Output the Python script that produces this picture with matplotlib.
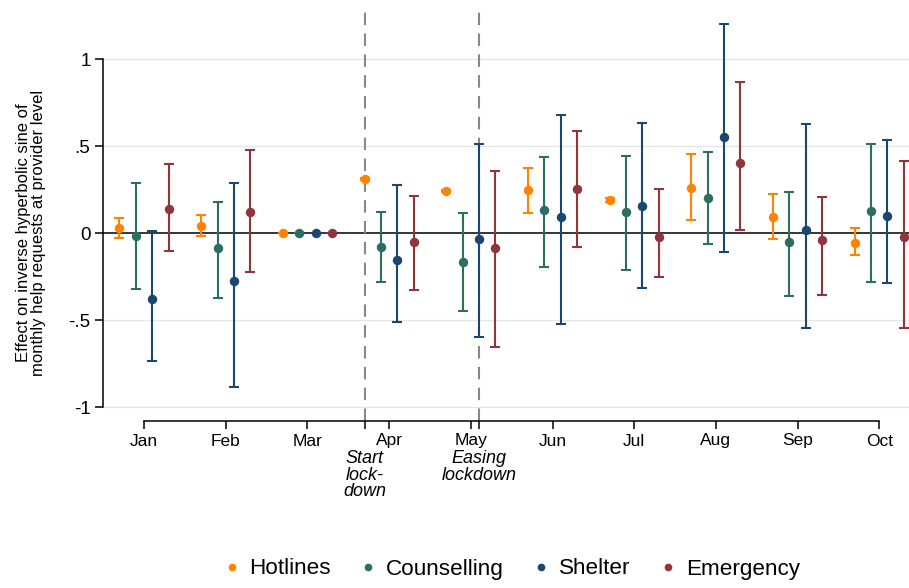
import matplotlib
matplotlib.use("Agg")
import matplotlib.pyplot as plt
import numpy as np

plt.rcParams['font.family'] = ['Liberation Sans', 'DejaVu Sans']

months = ["Jan", "Feb", "Mar", "Apr", "May", "Jun", "Jul", "Aug", "Sep", "Oct"]
series = ["Hotlines", "Counselling", "Shelter", "Emergency"]
colors = ["#FF8300", "#2C6E62", "#1A476F", "#90353B"]
offsets = [-0.3, -0.1, 0.1, 0.3]

hot_est = [0.030, 0.044, 0.0, 0.312, 0.243, 0.251, 0.190, 0.259, 0.094, -0.054]
hot_lo = [-0.029, -0.014, 0.0, 0.305, 0.236, 0.118, 0.178, 0.076, -0.034, -0.125]
hot_hi = [0.086, 0.105, 0.0, 0.319, 0.250, 0.373, 0.202, 0.454, 0.226, 0.029]

cou_est = [-0.017, -0.086, 0.0, -0.077, -0.167, 0.132, 0.121, 0.201, -0.050, 0.126]
cou_lo = [-0.320, -0.370, 0.0, -0.282, -0.447, -0.194, -0.209, -0.061, -0.358, -0.280]
cou_hi = [0.289, 0.178, 0.0, 0.122, 0.118, 0.438, 0.444, 0.466, 0.236, 0.513]

she_est = [-0.376, -0.274, 0.0, -0.153, -0.035, 0.095, 0.157, 0.555, 0.021, 0.099]
she_lo = [-0.732, -0.883, 0.0, -0.508, -0.598, -0.523, -0.316, -0.109, -0.542, -0.284]
she_hi = [0.015, 0.287, 0.0, 0.276, 0.515, 0.678, 0.632, 1.205, 0.628, 0.536]

eme_est = [0.141, 0.122, 0.0, -0.048, -0.083, 0.255, -0.021, 0.402, -0.037, -0.021]
eme_lo = [-0.102, -0.224, 0.0, -0.328, -0.652, -0.079, -0.249, 0.019, -0.353, -0.544]
eme_hi = [0.397, 0.480, 0.0, 0.213, 0.358, 0.588, 0.255, 0.871, 0.207, 0.416]

events_x = [3.7, 5.1]
events_lbl = ["Start\nlock-\ndown", "Easing\nlockdown"]

yticks = [-1, -0.5, 0, 0.5, 1]
ytick_lbls = ["-1", "-.5", "0", ".5", "1"]

data = [(hot_est, hot_lo, hot_hi), (cou_est, cou_lo, cou_hi),
        (she_est, she_lo, she_hi), (eme_est, eme_lo, eme_hi)]

fig = plt.figure(figsize=(9.09, 5.88), dpi=100)
ax = fig.add_axes([103/909, 1-421/588, 1-103/909, 421/588])

x = np.arange(1, len(months)+1)

for yv in [-1, -0.5, 0.5, 1]:
    ax.axhline(yv, color="#E6E6E6", lw=1.0, zorder=0)
ax.axhline(0, color="black", lw=1.1, zorder=1)

for ex in events_x:
    ax.plot([ex, ex], [-1.08, 1.30], color="#888888", lw=1.5,
            dashes=(6, 4), zorder=1, clip_on=False)

handles = []
for (est, lo, hi), c, off, name in zip(data, colors, offsets, series):
    est = np.array(est); lo = np.array(lo); hi = np.array(hi)
    xs = x + off
    yerr = np.vstack([est - lo, hi - est])
    ax.errorbar(xs, est, yerr=yerr, fmt='none', ecolor=c, elinewidth=1.5,
                capsize=3.8, capthick=1.5, zorder=2)
    ax.plot(xs, est, 'o', color=c, ms=6.8, zorder=3, mec='none')
    h, = ax.plot([], [], 'o', color=c, ms=5.5, mec='none', label=name)
    handles.append(h)

ax.set_xlim((103-144)/81.7+1, (909-144)/81.7+1)
ax.set_ylim((233.3-421)/174, (233.3-0)/174)

for s in ["top", "right"]:
    ax.spines[s].set_visible(False)
ax.spines["left"].set_bounds(-1, 1)
ax.spines["bottom"].set_bounds(1, 10)
ax.spines["left"].set_linewidth(1.1)
ax.spines["bottom"].set_linewidth(1.1)

ax.set_yticks(yticks)
ax.set_yticklabels(ytick_lbls, fontsize=13.5)
ax.set_xticks(list(x) + events_x)
ax.set_xticklabels(months + ["", ""], fontsize=12.5)
ax.tick_params(axis='both', direction='out', length=6, width=1.1, color='black')
ax.tick_params(axis='x', pad=3)
ax.tick_params(axis='y', pad=3)

for ex, lbl in zip(events_x, events_lbl):
    ax.annotate(lbl, xy=(ex, 0), xycoords=('data', 'axes fraction'),
                xytext=(0, -21), textcoords='offset points', ha='center', va='top',
                fontsize=13, style='italic', linespacing=0.95)

fig.text(31/909, 1-233/588, "Effect on inverse hyperbolic sine of\nmonthly help requests at provider level",
         rotation=90, ha='center', va='center', fontsize=12, linespacing=1.0)

fig.legend(handles=handles, loc='center', bbox_to_anchor=(510/909, 1-569/588),
           ncol=4, frameon=False, fontsize=16.2, handletextpad=0.3,
           columnspacing=1.15, handlelength=1.0)

fig.savefig("out.png", dpi=100)
